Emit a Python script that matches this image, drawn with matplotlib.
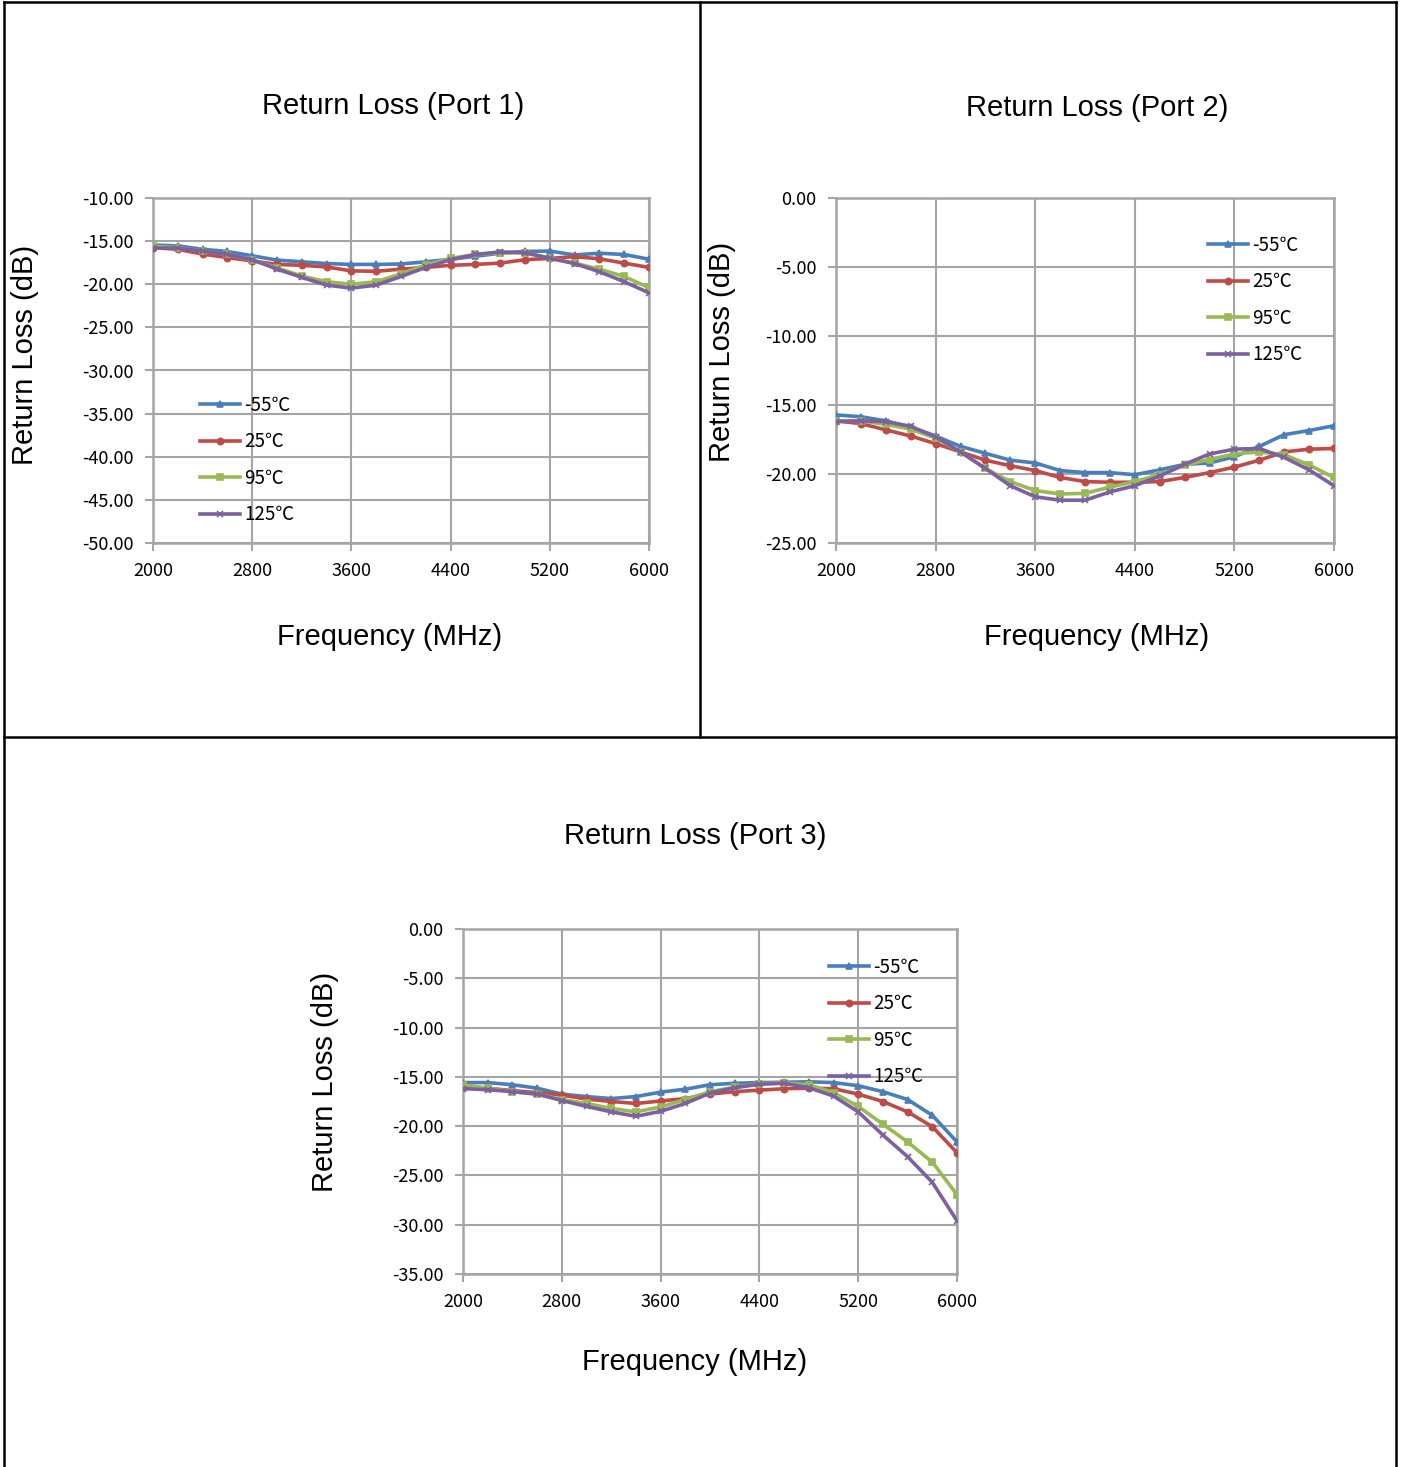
import matplotlib
matplotlib.use("Agg")
import matplotlib.pyplot as plt
from matplotlib.lines import Line2D
import numpy as np

# ---------------- data ----------------
freq = [2000, 2200, 2400, 2600, 2800, 3000, 3200, 3400, 3600, 3800, 4000,
        4200, 4400, 4600, 4800, 5000, 5200, 5400, 5600, 5800, 6000]
series_labels = ["-55℃", "25℃", "95℃", "125℃"]

p1_m55 = [-15.45, -15.55, -15.95, -16.2, -16.7, -17.2, -17.4, -17.6, -17.7, -17.7, -17.65,
          -17.4, -17.1, -16.75, -16.4, -16.2, -16.15, -16.6, -16.4, -16.55, -17.1]
p1_25 = [-15.75, -15.95, -16.5, -16.9, -17.3, -17.7, -17.8, -18.0, -18.45, -18.5, -18.25,
         -18.05, -17.8, -17.7, -17.55, -17.15, -17.0, -16.8, -17.05, -17.55, -18.05]
p1_95 = [-15.6, -15.75, -16.15, -16.55, -17.2, -18.1, -19.05, -19.7, -20.0, -19.7, -18.8,
         -17.75, -17.0, -16.55, -16.35, -16.35, -16.95, -17.55, -18.25, -19.1, -20.4]
p1_125 = [-15.8, -15.8, -16.15, -16.55, -17.15, -18.25, -19.2, -20.1, -20.45, -20.1, -19.1,
          -18.05, -17.15, -16.55, -16.25, -16.35, -17.0, -17.6, -18.55, -19.7, -21.0]

p2_m55 = [-15.72, -15.85, -16.15, -16.6, -17.25, -18.0, -18.5, -19.0, -19.2, -19.75, -19.9,
          -19.9, -20.05, -19.7, -19.3, -19.2, -18.75, -18.0, -17.15, -16.85, -16.5]
p2_25 = [-16.15, -16.35, -16.8, -17.25, -17.8, -18.4, -19.0, -19.4, -19.75, -20.25, -20.55,
         -20.6, -20.6, -20.55, -20.25, -19.9, -19.5, -19.0, -18.4, -18.2, -18.15]
p2_95 = [-16.15, -16.15, -16.4, -16.75, -17.4, -18.4, -19.6, -20.55, -21.2, -21.45, -21.4,
         -20.95, -20.55, -20.05, -19.35, -18.95, -18.55, -18.4, -18.6, -19.35, -20.25]
p2_125 = [-16.2, -16.15, -16.2, -16.55, -17.3, -18.4, -19.6, -20.85, -21.65, -21.9, -21.9,
          -21.3, -20.85, -20.15, -19.3, -18.55, -18.2, -18.15, -18.8, -19.7, -20.85]

p3_m55 = [-15.58, -15.58, -15.8, -16.15, -16.75, -17.0, -17.2, -17.0, -16.55, -16.25, -15.8,
          -15.65, -15.58, -15.55, -15.5, -15.58, -15.9, -16.5, -17.3, -18.9, -21.6]
p3_25 = [-16.0, -16.15, -16.4, -16.6, -16.85, -17.25, -17.5, -17.7, -17.45, -17.2, -16.75,
         -16.5, -16.35, -16.2, -16.15, -16.2, -16.75, -17.5, -18.55, -20.05, -22.7]
p3_95 = [-15.8, -16.15, -16.5, -16.75, -17.3, -17.7, -18.2, -18.55, -18.05, -17.3, -16.5,
         -16.05, -15.7, -15.6, -15.8, -16.6, -18.0, -19.8, -21.6, -23.65, -26.95]
p3_125 = [-16.2, -16.3, -16.5, -16.75, -17.4, -18.0, -18.55, -19.0, -18.5, -17.7, -16.65,
          -16.1, -15.75, -15.65, -16.1, -16.95, -18.55, -20.9, -23.1, -25.7, -29.6]

x_ticks = [2000, 2800, 3600, 4400, 5200, 6000]

# ---------------- style ----------------
W, H = 1401, 1467
colors = ["#4A7EBB", "#BE4B48", "#98B954", "#7D60A0"]
markers = ["^", "o", "s", "x"]
grid_c = "#A5A5A5"
TXT = ["Liberation Sans", "DejaVu Sans"]
TICK = ["Noto Sans CJK SC", "DejaVu Sans"]

fig = plt.figure(figsize=(W / 100, H / 100), dpi=100)
fig.patch.set_facecolor("white")


def px_axes(x0, y0, x1, y1):
    return fig.add_axes([x0 / W, 1 - y1 / H, (x1 - x0) / W, (y1 - y0) / H])


def make_panel(box, data, ylim, ystep, title, title_xy, ylab_xy, xlab_xy, leg_anchor):
    ax = px_axes(*box)
    for vals, c, m, lab in zip(data, colors, markers, series_labels):
        ax.plot(freq, vals, color=c, lw=2.6, marker=m, ms=4.5, mew=1.2,
                mfc=c, mec=c, label=lab, zorder=3)
    ax.set_xlim(2000, 6000)
    ax.set_ylim(*ylim)
    ax.set_xticks(x_ticks)
    yt = np.arange(ylim[0], ylim[1] + 0.001, ystep)
    ax.set_yticks(yt)
    ax.set_yticklabels([f"{v:.2f}" for v in yt])
    ax.grid(True, color=grid_c, lw=1.5, zorder=0)
    for s in ax.spines.values():
        s.set_color(grid_c)
        s.set_linewidth(1.8)
    ax.tick_params(axis="both", colors=grid_c, length=6, width=1.5,
                   labelcolor="black", labelsize=13)
    ax.tick_params(axis="y", pad=8)
    ax.tick_params(axis="x", pad=8)
    for lbl in ax.get_xticklabels() + ax.get_yticklabels():
        lbl.set_family(TICK)
    ax.set_ylabel("Return Loss (dB)", fontsize=21, family=TXT)
    ax.set_xlabel("Frequency (MHz)", fontsize=21, family=TXT)
    x0, y0, x1, y1 = box
    ax.yaxis.set_label_coords((ylab_xy[0] - x0) / (x1 - x0), (y1 - ylab_xy[1]) / (y1 - y0))
    ax.xaxis.set_label_coords((xlab_xy[0] - x0) / (x1 - x0), (y1 - xlab_xy[1]) / (y1 - y0))
    ax.xaxis.label.set_va("center")
    ax.yaxis.label.set_va("center")
    fig.text(title_xy[0] / W, 1 - title_xy[1] / H, title, fontsize=21, family=TXT,
             ha="center", va="center")
    lx, ly = leg_anchor
    ax.legend(loc="upper left",
              bbox_to_anchor=((lx - x0) / (x1 - x0), (y1 - ly) / (y1 - y0)),
              frameon=False, borderpad=0, handlelength=2.15, handletextpad=0.2,
              labelspacing=0.82, prop={"family": TICK, "size": 13.5},
              borderaxespad=0)
    return ax


make_panel((153, 198, 649, 543), [p1_m55, p1_25, p1_95, p1_125], (-50, -10), 5,
           "Return Loss (Port 1)", (393, 106), (25, 355), (390, 637), (200, 395))
make_panel((836, 198, 1334, 543), [p2_m55, p2_25, p2_95, p2_125], (-25, 0), 5,
           "Return Loss (Port 2)", (1097, 108), (722, 352), (1097, 637), (1208, 235))
make_panel((463, 929, 957, 1274), [p3_m55, p3_25, p3_95, p3_125], (-35, 0), 5,
           "Return Loss (Port 3)", (695, 836), (325, 1082), (695, 1362), (829, 957))

# ---------------- frame lines ----------------
def fline(xs, ys):
    fig.add_artist(Line2D([x / W for x in xs], [1 - y / H for y in ys],
                          color="black", lw=1.8, solid_capstyle="projecting"))

fline([4, 1396], [2, 2])
fline([4, 4], [2, H])
fline([1396, 1396], [2, H])
fline([700, 700], [2, 737])
fline([4, 1396], [737, 737])

fig.savefig("out.png", dpi=100)
